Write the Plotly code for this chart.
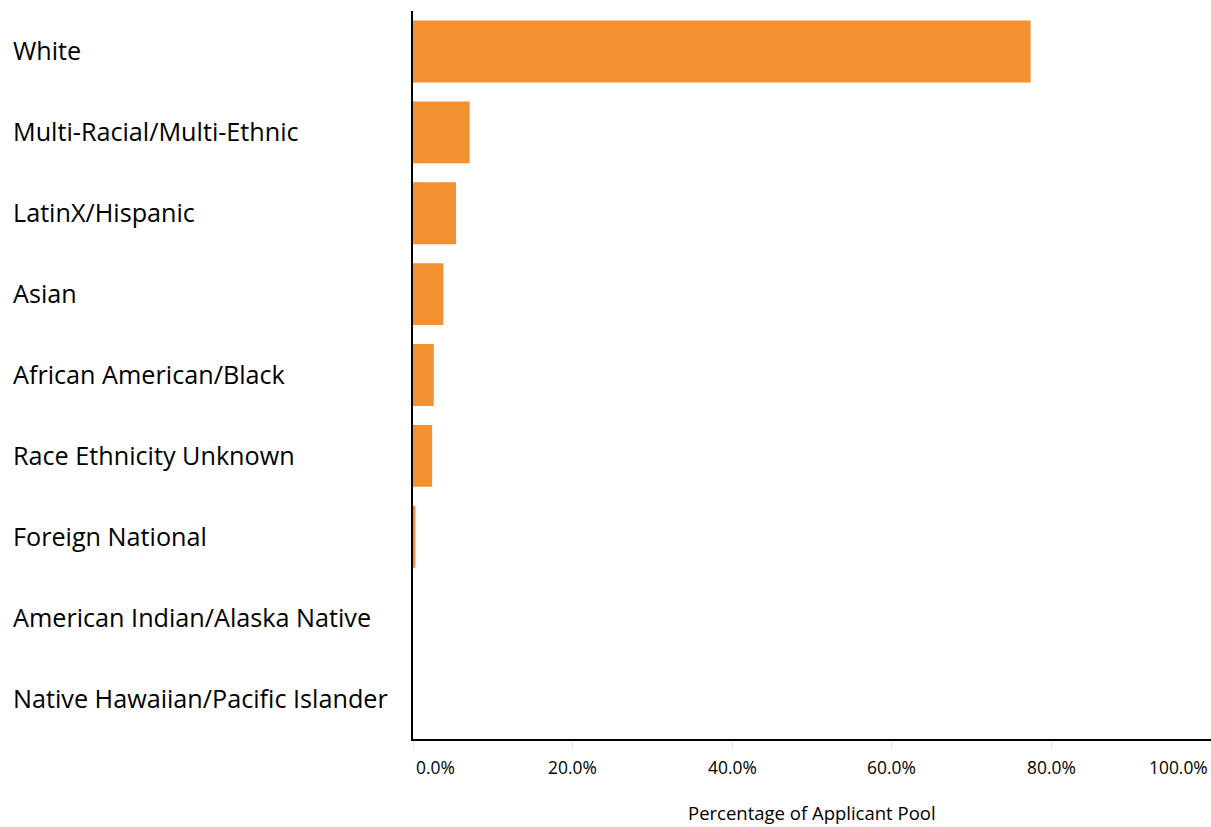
import plotly.graph_objects as go

categories = ["White", "Multi-Racial/Multi-Ethnic", "LatinX/Hispanic", "Asian",
              "African American/Black", "Race Ethnicity Unknown", "Foreign National",
              "American Indian/Alaska Native", "Native Hawaiian/Pacific Islander"]
values = [77.4, 7.1, 5.4, 3.8, 2.6, 2.4, 0.3, 0.0, 0.0]
tick_vals = [0, 20, 40, 60, 80, 100]
tick_text = ["0.0%", "20.0%", "40.0%", "60.0%", "80.0%", "100.0%"]
x_title = "Percentage of Applicant Pool"

FONT = "Open Sans, Lato, sans-serif"

fig = go.Figure(go.Bar(
    x=values, y=categories, orientation="h",
    marker=dict(color="#F39130", line=dict(width=0)),
    hoverinfo="x+y",
))

annotations = []
for c in categories:
    annotations.append(dict(x=0, y=c, xref="paper", yref="y", text=c, showarrow=False,
                            xanchor="left", xshift=-402, yshift=1,
                            font=dict(family=FONT, size=25.2, color="#000")))
for v, t in zip(tick_vals, tick_text):
    anchor = "left" if v == 0 else ("right" if v == 100 else "center")
    shift = 1 if v == 0 else (-1 if v == 100 else 0)
    annotations.append(dict(x=v, y=0, xref="x", yref="paper", text=t, showarrow=False,
                            xanchor=anchor, yanchor="middle", xshift=shift, yshift=-28,
                            font=dict(family=FONT, size=17.4, color="#000")))
annotations.append(dict(x=0.5, y=0, xref="paper", yref="paper", text=x_title, showarrow=False,
                        xanchor="center", yanchor="middle", yshift=-73,
                        font=dict(family=FONT, size=18.5, color="#000")))

fig.update_layout(
    width=1211, height=827,
    margin=dict(l=413, r=0, t=11, b=88),
    paper_bgcolor="white", plot_bgcolor="white",
    bargap=0.235,
    showlegend=False,
    annotations=annotations,
    xaxis=dict(range=[0, 100], tickvals=tick_vals, showticklabels=False,
               showgrid=False, zeroline=False, showline=True, linecolor="black", linewidth=1.5,
               ticks="outside", ticklen=8, tickcolor="#e6e6e6", tickwidth=1),
    yaxis=dict(autorange="reversed", showticklabels=False, showgrid=False, zeroline=False,
               showline=True, linecolor="black", linewidth=2, ticks=""),
)

fig.write_html("out.html", config={"displayModeBar": False},
               post_script="document.body.style.margin='0';document.body.style.overflow='hidden';")
